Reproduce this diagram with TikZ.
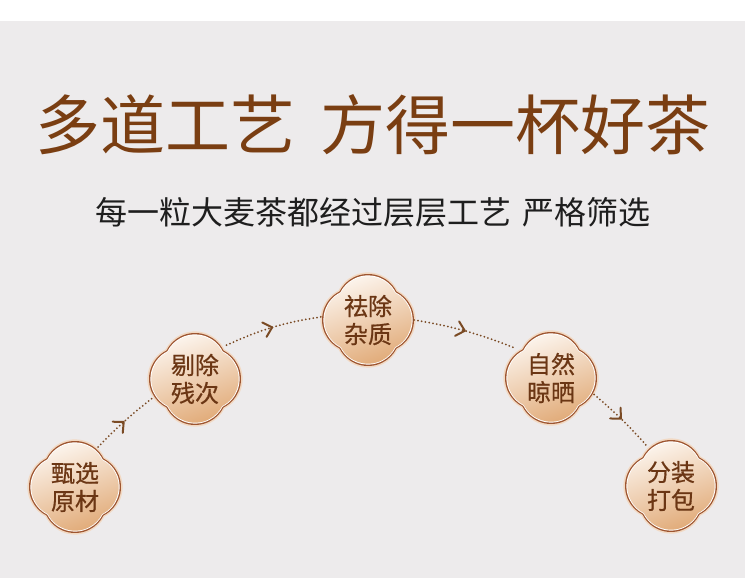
\documentclass[tikz,border=0pt]{standalone}
\usepackage{fontspec}
\newfontfamily\cjk{Noto Sans CJK SC}
\newfontfamily\cjkn[FakeBold=0.6]{Noto Sans CJK SC}
\usetikzlibrary{arrows.meta,decorations.markings}
\definecolor{bggray}{HTML}{EDEBEC}
\definecolor{titlebrown}{HTML}{7A3E12}
\definecolor{nodebrown}{HTML}{6B3614}
\definecolor{subblack}{HTML}{1E1E1E}
\definecolor{dotbrown}{HTML}{7A4A24}
\definecolor{copper}{HTML}{9E5530}
\definecolor{halo}{HTML}{F2D9C3}
\definecolor{fillhi}{HTML}{FDF7F1}
\definecolor{filllo}{HTML}{E0A874}
\newcommand\qfshape{(28.52,28.52) arc[start angle=27,end angle=153,radius=32]
  arc[start angle=117,end angle=243,radius=32]
  arc[start angle=207,end angle=333,radius=32]
  arc[start angle=-63,end angle=63,radius=32] -- cycle}
\newcommand\quatre[1]{%
  \begin{scope}[shift={(#1)},x=1.035pt,y=1.035pt]\fill[halo] \qfshape;\end{scope}
  \begin{scope}[shift={(#1)},x=1pt,y=1pt]\fill[copper] \qfshape;\end{scope}
  \begin{scope}[shift={(#1)},x=0.97pt,y=0.97pt]\fill[white] \qfshape;\end{scope}
  \begin{scope}[shift={(#1)},x=0.95pt,y=0.95pt]\shade[top color=fillhi,bottom color=filllo,shading angle=20] \qfshape;\end{scope}
}
\tikzset{
  stepnode/.style={circle,minimum size=92pt,inner sep=0pt,align=center,
    text=nodebrown,font=\cjkn\fontsize{24}{28}\selectfont},
  conn/.style={dotbrown,line width=2pt,line cap=round,dash pattern=on 0pt off 3.8pt,
    postaction={decorate},
    decoration={markings,mark=at position 0.5 with {\arrow[solid]{Straight Barb[length=8pt,width=15pt,line width=2pt,round]}}}}
}
\begin{document}
\begin{tikzpicture}[x=1pt,y=-1pt]
\useasboundingbox (0,0) rectangle (750,578);
\fill[white] (0,0) rectangle (750,578);
\fill[bggray] (0,21) rectangle (745,578);
\node[text=titlebrown,font=\cjk\fontsize{65}{70}\selectfont,inner sep=0pt] (title) at (373,125) {多道工艺\hspace{0.4em}方得一杯好茶};
\node[text=subblack,font=\cjk\fontsize{32}{36}\selectfont,inner sep=0pt] (sub) at (373,212) {每一粒大麦茶都经过层层工艺\hspace{0.35em}严格筛选};
\coordinate (c1) at (75,487);
\coordinate (c2) at (195,379);
\coordinate (c3) at (368,320);
\coordinate (c4) at (551,378);
\coordinate (c5) at (671,486);
\quatre{c1}\quatre{c2}\quatre{c3}\quatre{c4}\quatre{c5}
\node[stepnode] (n1) at (c1) {甄选\\原材};
\node[stepnode] (n2) at (c2) {剔除\\残次};
\node[stepnode] (n3) at (c3) {祛除\\杂质};
\node[stepnode] (n4) at (c4) {自然\\晾晒};
\node[stepnode] (n5) at (c5) {分装\\打包};
\draw[conn] (n1.60) to[bend left=4] (n2.204);
\draw[conn] (n2.47) to[bend left=8] (n3.176);
\draw[conn] (n3.0) to[bend left=6] (n4.140);
\draw[conn] (n4.-21) to[bend left=4] (n5.121);
\end{tikzpicture}
\end{document}
